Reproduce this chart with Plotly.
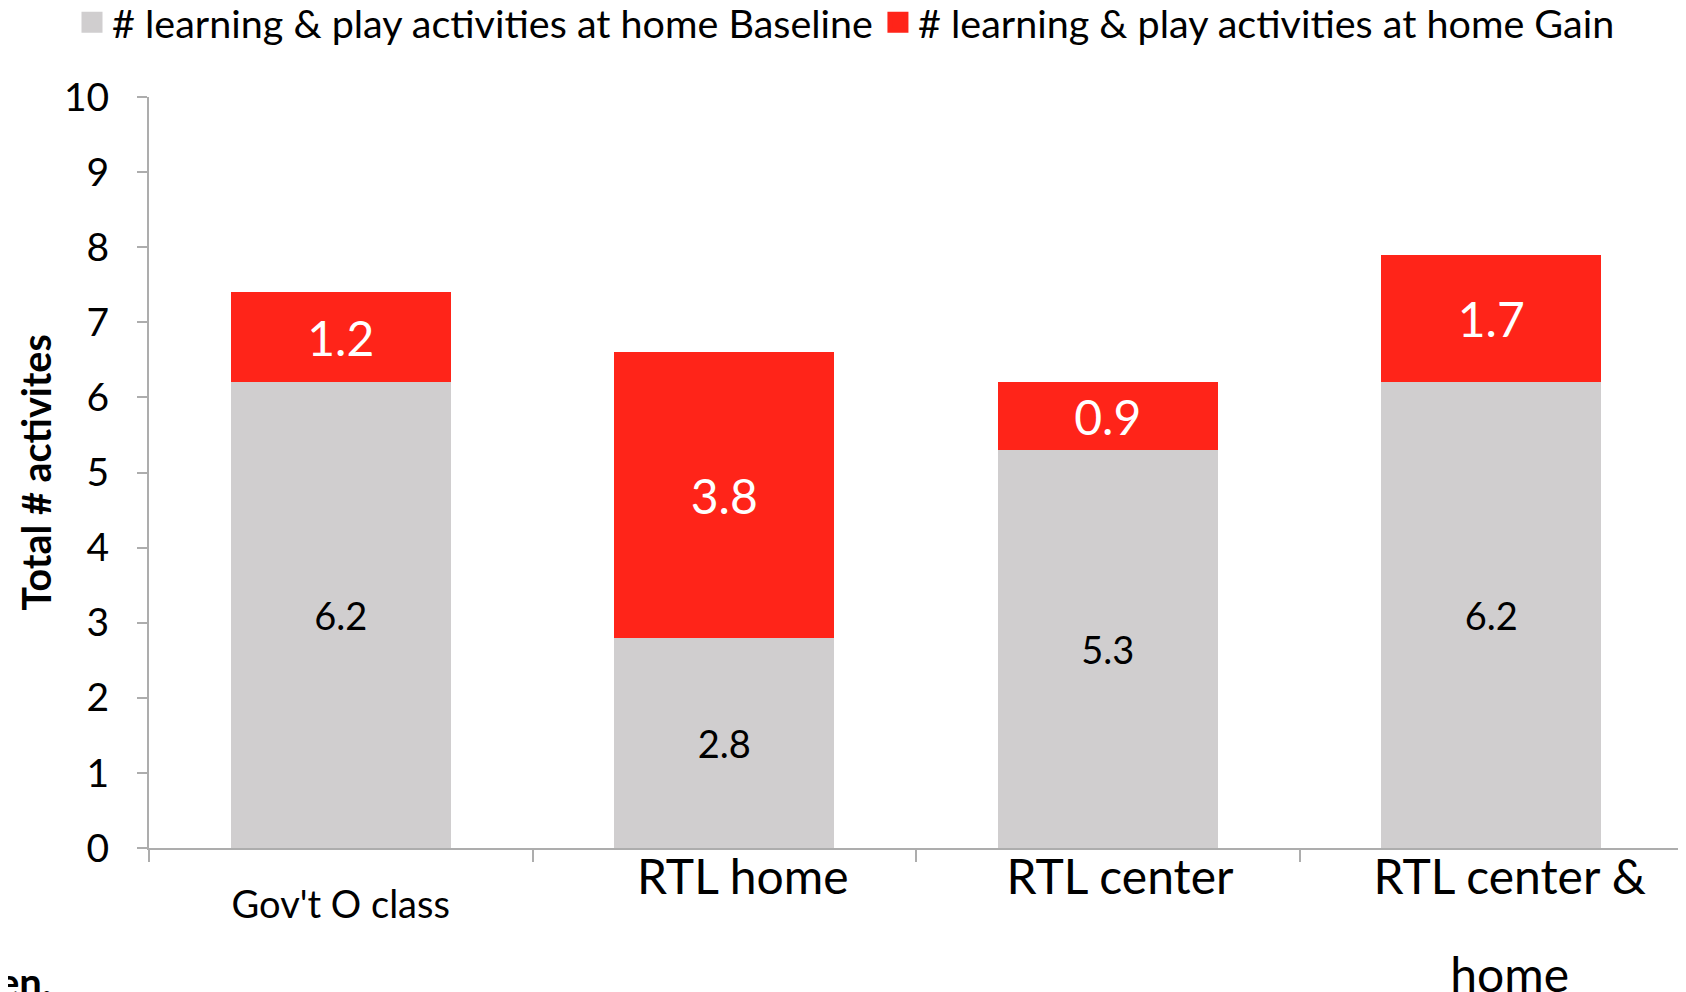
import plotly.graph_objects as go

categories = ["Gov't O class", "RTL home", "RTL center", "RTL center & home"]
tick_labels = [
    '<span style="font-size:38px;baseline-shift:-24px">Gov\'t O class</span>',
    "&nbsp;&nbsp;&nbsp;RTL home",
    "&nbsp;&nbsp;RTL center",
    '&nbsp;&nbsp;&nbsp;RTL center &<br><span style="baseline-shift:-36px">&nbsp;&nbsp;&nbsp;home</span>',
]
baseline = [6.2, 2.8, 5.3, 6.2]
gain = [1.2, 3.8, 0.9, 1.7]
y_ticks = [0, 1, 2, 3, 4, 5, 6, 7, 8, 9, 10]
series_names = ["# learning & play activities at home Baseline",
                "# learning & play activities at home Gain"]
colors = ["#D0CECF", "#FF2419"]

FONT = "Lato, 'Open Sans', sans-serif"

# page has an 8px body margin: figure is sized to fill the rest of the window
W, H = 1678, 984
L, R, T, B = 141, 3, 89, 144
PW, PH = W - L - R, H - T - B

fig = go.Figure()
fig.add_trace(go.Bar(
    x=categories, y=baseline, name=series_names[0], showlegend=False,
    marker=dict(color=colors[0], line=dict(width=0)),
    text=[f"{v:.1f}" for v in baseline], textposition="inside",
    insidetextanchor="middle", constraintext="none",
    textfont=dict(color="black", size=38, family=FONT),
))
fig.add_trace(go.Bar(
    x=categories, y=gain, name=series_names[1], showlegend=False,
    marker=dict(color=colors[1], line=dict(width=0)),
    text=[f"{v:.1f}" for v in gain], textposition="inside",
    insidetextanchor="middle", constraintext="none",
    textfont=dict(color="white", size=48, family=FONT),
))
# legend entries with larger square swatches
for nm, c in zip(series_names, colors):
    fig.add_trace(go.Scatter(
        x=[None], y=[None], mode="markers", name=nm,
        marker=dict(symbol="square", size=16, color=c, line=dict(color=c, width=5)),
        showlegend=True, hoverinfo="skip",
    ))

fig.update_layout(
    barmode="stack",
    bargap=0.426,
    width=W, height=H,
    margin=dict(l=L, r=R, t=T, b=B, autoexpand=False),
    paper_bgcolor="white", plot_bgcolor="white",
    font=dict(family=FONT, color="black"),
    legend=dict(
        orientation="h", xref="paper", x=(64 - L) / PW, xanchor="left",
        yref="paper", y=1 + (T + 18) / PH, yanchor="top",
        font=dict(size=39.5, family=FONT), itemsizing="trace",
        traceorder="normal", bgcolor="rgba(0,0,0,0)",
    ),
    showlegend=True,
)

fig.update_yaxes(
    range=[0, 10], tickvals=y_ticks, ticktext=[str(v) for v in y_ticks],
    showgrid=False, zeroline=False,
    showline=True, linecolor="#ADADAD", linewidth=2,
    ticks="outside", ticklen=10, tickcolor="#ADADAD", tickwidth=2,
    tickfont=dict(size=39, family=FONT, color="black"),
    ticklabelstandoff=20,
)
fig.update_xaxes(
    tickvals=categories, ticktext=tick_labels,
    showgrid=False, zeroline=False,
    showline=True, linecolor="#ADADAD", linewidth=2,
    ticks="outside", ticklen=12, tickcolor="#ADADAD", tickwidth=2,
    tickson="boundaries",
    tickfont=dict(size=48, family=FONT, color="black"),
    ticklabelstandoff=-14,
)

# y-axis title
fig.add_annotation(
    text="<b>Total # activites</b>", xref="paper", yref="paper",
    x=(27 - L) / PW, y=0.5, xanchor="center", yanchor="middle", textangle=-90,
    showarrow=False, font=dict(size=39.5, family=FONT, color="black"),
)

fig.add_annotation(
    text="<b>en.</b>", xref="paper", yref="paper",
    x=(-12 - L) / PW, y=-B / PH, xanchor="left", yanchor="bottom",
    showarrow=False, font=dict(size=40, family=FONT, color="black"), yshift=-16,
)

fig.write_html("out.html")
